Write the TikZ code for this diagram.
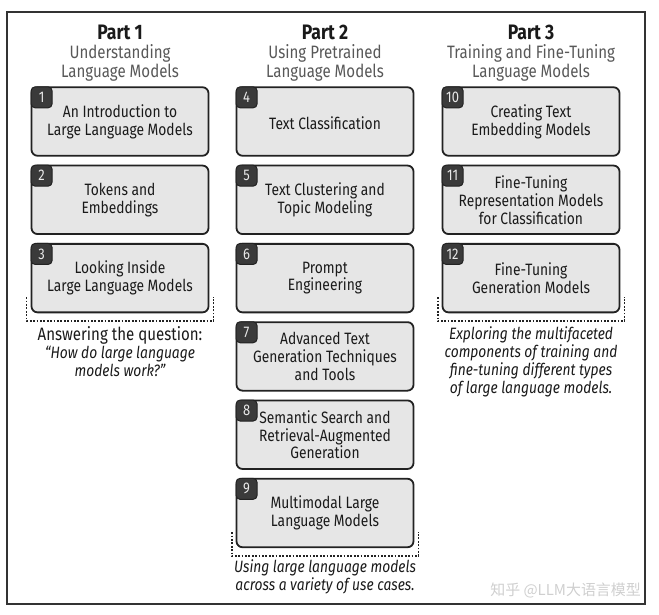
\documentclass[tikz,border=0pt]{standalone}
\usepackage{fontspec}
\setmainfont[FakeStretch=0.84]{Fira Sans}
\newfontfamily\cjkfont{Noto Sans CJK SC}
\usetikzlibrary{positioning}

\definecolor{linegray}{HTML}{222222}
\definecolor{boxgray}{HTML}{E6E6E6}
\definecolor{badgegray}{HTML}{3A3A3A}
\definecolor{badgetext}{HTML}{E8E8E8}
\definecolor{textdark}{HTML}{1A1A1A}
\definecolor{subgray}{HTML}{585858}
\definecolor{framegray}{HTML}{333333}
\definecolor{wmgray}{HTML}{CFCFCF}

\begin{document}
\begin{tikzpicture}[x=1bp,y=-1bp,
  node distance=8bp,
  every node/.style={align=center, inner sep=0pt},
  chapter/.style={draw=linegray, fill=boxgray, line width=1.8bp, rounded corners=6bp,
    minimum width=177bp, minimum height=68.5bp, text=textdark,
    font=\fontsize{16.5}{18}\selectfont, execute at begin node=\rule{0pt}{16bp}},
  badge/.style={draw=linegray, fill=badgegray, line width=1bp, rounded corners=4bp,
    minimum size=21bp, anchor=north west, text=badgetext,
    font=\fontsize{15.5}{15.5}\selectfont},
  parttitle/.style={text=textdark, font=\bfseries\fontsize{21}{22}\selectfont},
  partsub/.style={text=subgray, font=\fontsize{18}{19}\selectfont},
  bracket/.style={draw=linegray, line width=1.8bp, dash pattern=on 1.8bp off 1.6bp},
  caption/.style={anchor=north, text=textdark, font=\fontsize{16.5}{18}\selectfont}]

\useasboundingbox (0,0) rectangle (659,615);
\draw[framegray, line width=1.2bp] (7,12) rectangle (645,604);

\node[parttitle] (p1) at (120,32) {Part 1};
\node[parttitle] (p2) at (325,32) {Part 2};
\node[parttitle] (p3) at (531,32) {Part 3};
\node[partsub] (s1) at (120,62.5) {Understanding\\Language Models};
\node[partsub] (s2) at (325,62.5) {Using Pretrained\\Language Models};
\node[partsub] (s3) at (531,62.5) {Training and Fine-Tuning\\Language Models};

\node[chapter] (c1) at (120,121.5) {An Introduction to\\Large Language Models};
\node[chapter, below=of c1] (c2) {Tokens and\\Embeddings};
\node[chapter, below=of c2] (c3) {Looking Inside\\Large Language Models};

\node[chapter] (c4) at (325,121.5) {Text Classification};
\node[chapter, below=of c4] (c5) {Text Clustering and\\Topic Modeling};
\node[chapter, below=of c5] (c6) {Prompt\\Engineering};
\node[chapter, below=of c6] (c7) {Advanced Text\\Generation Techniques\\and Tools};
\node[chapter, below=of c7] (c8) {Semantic Search and\\Retrieval-Augmented\\Generation};
\node[chapter, below=of c8] (c9) {Multimodal Large\\Language Models};

\node[chapter] (c10) at (531,121.5) {Creating Text\\Embedding Models};
\node[chapter, below=of c10] (c11) {Fine-Tuning\\Representation Models\\for Classification};
\node[chapter, below=of c11] (c12) {Fine-Tuning\\Generation Models};

\foreach \n in {1,...,12}
  \node[badge] (b\n) at (c\n.north west) {\n};

\draw[bracket] ([xshift=-4bp,yshift=16bp]c3.south west) |- ([xshift=4bp,yshift=-8bp]c3.south east)
  -- ([xshift=4bp,yshift=16bp]c3.south east);
\draw[bracket] ([xshift=-4bp,yshift=16bp]c9.south west) |- ([xshift=4bp,yshift=-8bp]c9.south east)
  -- ([xshift=4bp,yshift=16bp]c9.south east);
\draw[bracket] ([xshift=-4bp,yshift=16bp]c12.south west) |- ([xshift=4bp,yshift=-8bp]c12.south east)
  -- ([xshift=4bp,yshift=16bp]c12.south east);

\node[caption, below=13bp of c3.south] (q1) {\fontsize{18}{18}\selectfont Answering the question:\\
  \itshape “How do large language\\\itshape models work?”};
\node[caption, below=11bp of c9.south] (q2) {\itshape Using large language models\\
  \itshape across a variety of use cases.};
\node[caption, below=13bp of c12.south] (q3) {\itshape Exploring the multifaceted\\
  \itshape components of training and\\\itshape fine-tuning different types\\
  \itshape of large language models.};

\node[anchor=south east, text=wmgray, font=\cjkfont\fontsize{15}{15}\selectfont] (wm)
  at (641,598) {知乎 @LLM大语言模型};
\end{tikzpicture}
\end{document}
